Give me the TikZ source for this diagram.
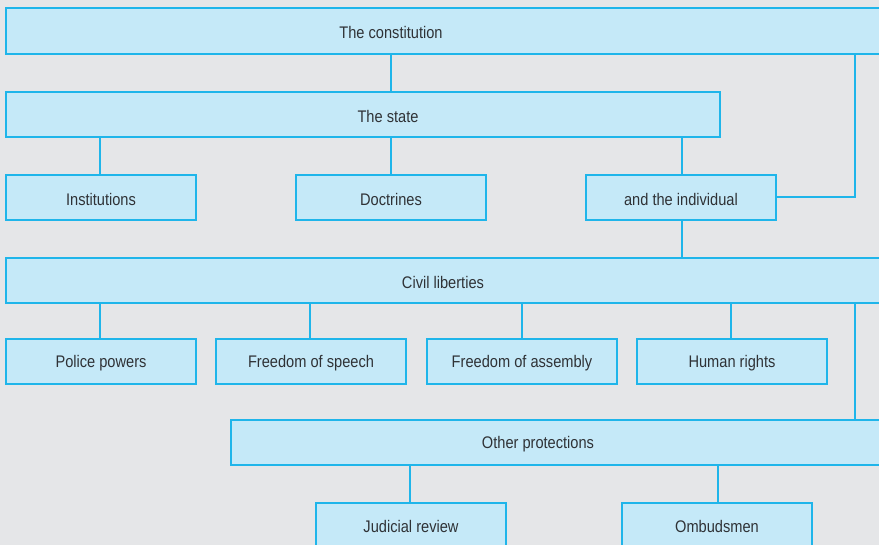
\documentclass[tikz,border=0pt]{standalone}
\usepackage{fontspec}
\setmainfont{Liberation Sans}[FakeStretch=0.87]
\definecolor{bg}{HTML}{E5E6E8}
\definecolor{boxfill}{HTML}{C5E9F8}
\definecolor{boxline}{HTML}{1FB5EA}
\definecolor{txt}{HTML}{2F3236}
\begin{document}
\begin{tikzpicture}[x=1pt,y=-1pt,
  box/.style={draw=boxline,fill=boxfill,line width=1.1pt},
  lbl/.style={text=txt,font=\fontsize{16.8}{20}\selectfont,anchor=center,yshift=-1.5pt},
  link/.style={draw=boxline,line width=1.1pt}]
  \useasboundingbox[fill=bg] (0,0) rectangle (879,545);
  % frames (some run past the right and bottom edges)
  \path[box] (6,8) rectangle (890,54);
  \path[box] (6,92) rectangle (720,137);
  \path[box] (6,175) rectangle (196,220);
  \path[box] (296,175) rectangle (486,220);
  \path[box] (586,175) rectangle (776,220);
  \path[box] (6,258) rectangle (890,303);
  \path[box] (6,339) rectangle (196,384);
  \path[box] (216,339) rectangle (406,384);
  \path[box] (427,339) rectangle (617,384);
  \path[box] (637,339) rectangle (827,384);
  \path[box] (231,420) rectangle (890,465);
  \path[box] (316,503) rectangle (506,560);
  \path[box] (622,503) rectangle (812,560);
  % labels
  \node[lbl] (con) at (391,31) {The constitution};
  \node[lbl] (sta) at (388,114.5) {The state};
  \node[lbl] (ins) at (101,197.5) {Institutions};
  \node[lbl] (doc) at (391,197.5) {Doctrines};
  \node[lbl] (ind) at (681,197.5) {and the individual};
  \node[lbl] (civ) at (443,280.5) {Civil liberties};
  \node[lbl] (pol) at (101,361.5) {Police powers};
  \node[lbl] (spe) at (311,361.5) {Freedom of speech};
  \node[lbl] (ass) at (522,361.5) {Freedom of assembly};
  \node[lbl] (hum) at (732,361.5) {Human rights};
  \node[lbl] (oth) at (538,442.5) {Other protections};
  \node[lbl] (jud) at (411,524.5) {Judicial review};
  \node[lbl] (omb) at (717,524.5) {Ombudsmen};
  % anchor points on the frame edges
  \coordinate (conB) at (391,54);  \coordinate (staT) at (391,92);
  \coordinate (staB1) at (100,137); \coordinate (insT) at (100,175);
  \coordinate (staB2) at (391,137); \coordinate (docT) at (391,175);
  \coordinate (staB3) at (682,137); \coordinate (indT) at (682,175);
  \coordinate (indR) at (776,197); \coordinate (conB2) at (855,54);
  \coordinate (indB) at (682,220); \coordinate (civT) at (682,258);
  \coordinate (civB1) at (100,303); \coordinate (polT) at (100,339);
  \coordinate (civB2) at (310,303); \coordinate (speT) at (310,339);
  \coordinate (civB3) at (522,303); \coordinate (assT) at (522,339);
  \coordinate (civB4) at (731,303); \coordinate (humT) at (731,339);
  \coordinate (civB5) at (855,303); \coordinate (othT) at (855,420);
  \coordinate (othB1) at (410,465); \coordinate (judT) at (410,503);
  \coordinate (othB2) at (718,465); \coordinate (ombT) at (718,503);
  % connectors
  \draw[link] (conB) -- (staT);
  \draw[link] (staB1) -- (insT);
  \draw[link] (staB2) -- (docT);
  \draw[link] (staB3) -- (indT);
  \draw[link] (indR) -| (conB2);
  \draw[link] (indB) -- (civT);
  \draw[link] (civB1) -- (polT);
  \draw[link] (civB2) -- (speT);
  \draw[link] (civB3) -- (assT);
  \draw[link] (civB4) -- (humT);
  \draw[link] (civB5) -- (othT);
  \draw[link] (othB1) -- (judT);
  \draw[link] (othB2) -- (ombT);
\end{tikzpicture}
\end{document}
